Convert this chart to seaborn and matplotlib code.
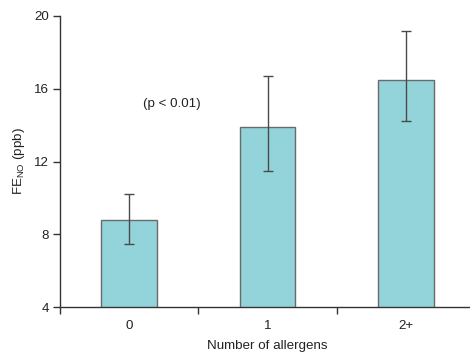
import matplotlib
matplotlib.use("Agg")
import matplotlib.pyplot as plt
import seaborn as sns
import pandas as pd
import numpy as np

categories = ["0", "1", "2+"]
means = [8.77, 13.92, 16.48]
err_low = [7.45, 11.49, 14.24]
err_high = [10.22, 16.72, 19.18]
y_ticks = [4, 8, 12, 16, 20]

sns.set_style("white")
plt.rcParams['font.family'] = ['Liberation Sans', 'DejaVu Sans']
plt.rcParams['mathtext.default'] = 'regular'

df = pd.DataFrame({"allergens": categories, "feno": means})

fig = plt.figure(figsize=(4.70, 3.53), dpi=100)
ax = fig.add_axes([60/470, 46/353, 415/470, 291/353])

sns.barplot(data=df, x="allergens", y="feno", color="#93D4DA", saturation=1,
            width=0.4, edgecolor="#6a6a6a", linewidth=1.0, errorbar=None, ax=ax)

x = np.arange(len(categories))
lower = np.array(means) - np.array(err_low)
upper = np.array(err_high) - np.array(means)
ax.errorbar(x, means, yerr=[lower, upper], fmt="none", ecolor="#4a4a4a",
            elinewidth=1.0, capsize=3.6, capthick=1.0)

FS = 9.6
ax.set_ylim(4, 20)
ax.set_xlim(-0.5, 2.5)
ax.set_yticks(y_ticks)
ax.set_yticklabels([str(t) for t in y_ticks])
ax.set_xticks(x)
ax.set_xticklabels(categories)
ax.set_xticks([-0.5, 0.5, 1.5, 2.5], minor=True)
ax.tick_params(axis="x", which="major", length=0, pad=9.5, labelsize=FS, labelcolor="#222222")
ax.tick_params(axis="x", which="minor", length=5, width=1.0, direction="out",
               color="#333333", bottom=True)
ax.tick_params(axis="y", which="major", length=5, width=1.0, direction="out",
               left=True, labelsize=FS, labelcolor="#222222", color="#333333", pad=3)

sns.despine(ax=ax, top=True, right=True)
for s in ["left", "bottom"]:
    ax.spines[s].set_color("#333333")
    ax.spines[s].set_linewidth(1.0)

ax.set_xlabel("Number of allergens", fontsize=FS, color="#222222", labelpad=5.5)
ax.set_ylabel("FE$_{NO}$ (ppb)", fontsize=FS, color="#222222", labelpad=5)

ax.text(0.10, 15.15, "(p < 0.01)", fontsize=FS, color="#222222",
        ha="left", va="center")

fig.savefig("out.png", dpi=100)
